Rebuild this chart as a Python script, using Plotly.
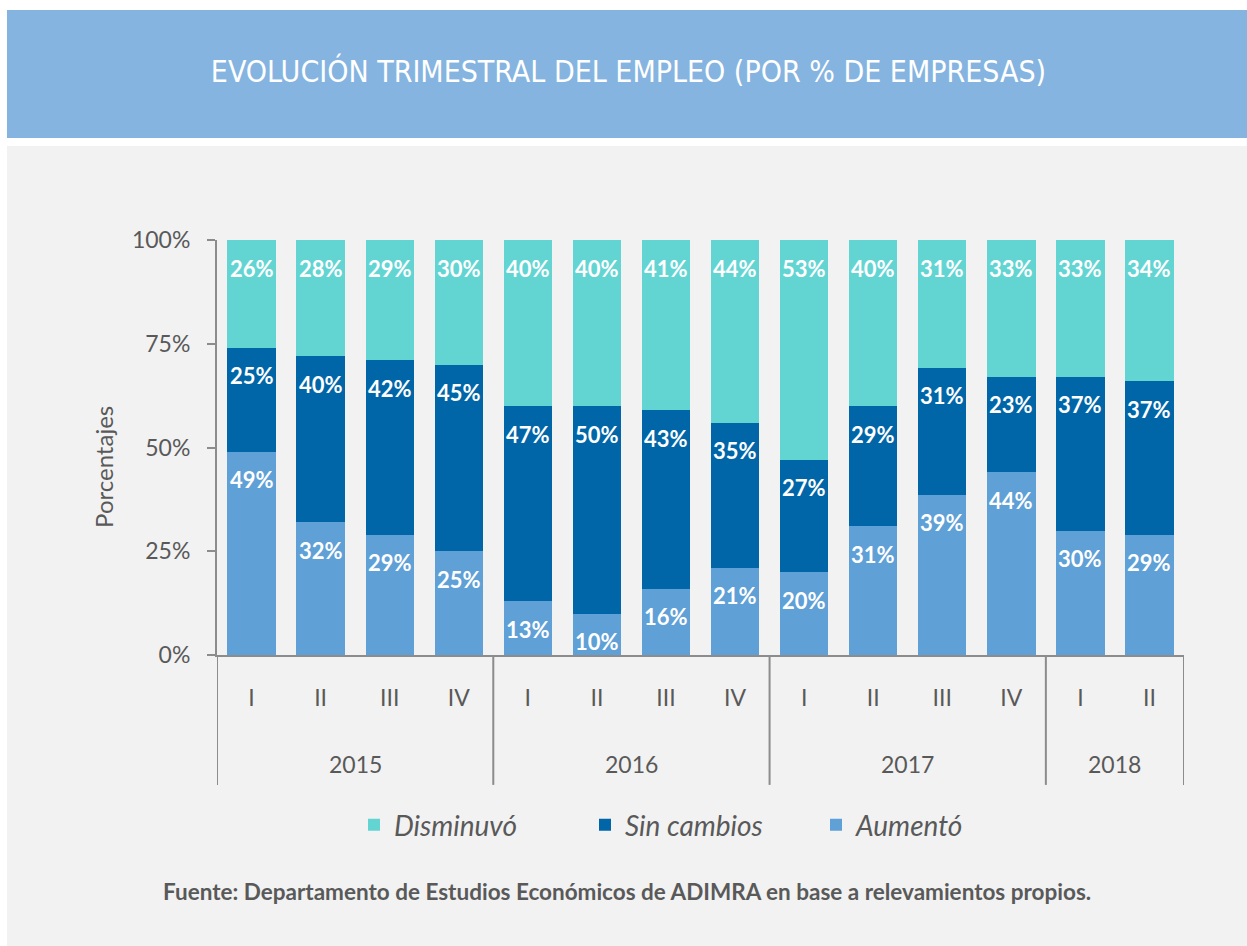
import plotly.graph_objects as go

# ---- data ----
years = ["2015", "2015", "2015", "2015", "2016", "2016", "2016", "2016",
         "2017", "2017", "2017", "2017", "2018", "2018"]
quarters = ["I", "II", "III", "IV", "I", "II", "III", "IV",
            "I", "II", "III", "IV", "I", "II"]
aumento = [49, 32, 29, 25, 13, 10, 16, 21, 20, 31, 38.6, 44, 30, 29]
sin_cambios = [25, 40, 42, 45, 47, 50, 43, 35, 27, 29, 30.6, 23, 37, 37]
disminuyo = [26, 28, 29, 30, 40, 40, 41, 44, 53, 40, 30.8, 33, 33, 34]
y_ticks = [0, 25, 50, 75, 100]

series = [
    ("Aumentó", aumento, "#5FA0D6"),
    ("Sin cambios", sin_cambios, "#0066A8"),
    ("Disminuvó", disminuyo, "#62D5D3"),
]

cats = [f"{y} {q}" for y, q in zip(years, quarters)]

GRAY = "#595959"
AXIS = "#8C8C8C"
FONT = "Lato"

fig = go.Figure()
for name, vals, col in series:
    fig.add_trace(go.Bar(
        x=cats, y=vals, name=name, marker=dict(color=col, line=dict(width=0)),
        hoverinfo="y+name",
    ))

# value labels near the top of each segment
annotations = []
cum = [0.0] * len(cats)
for name, vals, col in series:
    for i, v in enumerate(vals):
        cum[i] += v
        annotations.append(dict(
            x=cats[i], y=cum[i], xref="x", yref="y", text=f"{v:.0f}%",
            showarrow=False, yanchor="middle", yshift=-28,
            font=dict(family=FONT, size=22, color="white", weight="bold"),
        ))

# year labels and dividers
groups = []
for i, y in enumerate(years):
    if not groups or groups[-1][0] != y:
        groups.append([y, i, i])
    else:
        groups[-1][2] = i
shapes = []
for y, a, b in groups:
    annotations.append(dict(
        x=(a + b) / 2, y=-0.263, xref="x", yref="paper", text=y,
        showarrow=False, yanchor="middle",
        font=dict(family=FONT, size=23, color=GRAY),
    ))
bounds = sorted(set([g[1] - 0.5 for g in groups] + [groups[-1][2] + 0.5]))
for bx in bounds:
    shapes.append(dict(type="line", xref="x", yref="paper", x0=bx, x1=bx,
                       y0=0, y1=-0.313, line=dict(color=AXIS, width=2)))

# background panels
shapes.append(dict(type="rect", xref="paper", yref="paper", x0=-0.2172, x1=1.07,
                   y0=-0.71, y1=1.2265, fillcolor="#F2F2F2", line=dict(width=0),
                   layer="below"))
shapes.append(dict(type="rect", xref="paper", yref="paper", x0=-0.2172, x1=1.07,
                   y0=1.2458, y1=1.554, fillcolor="#85B4E0", line=dict(width=0),
                   layer="below"))

annotations.append(dict(
    x=-0.118, y=0.453, xref="paper", yref="paper", text="Porcentajes",
    textangle=-90, showarrow=False, xanchor="center", yanchor="middle",
    font=dict(family=FONT, size=24, color=GRAY),
))
annotations.append(dict(
    x=0.424, y=-0.569, xref="paper", yref="paper", xanchor="center", yanchor="middle",
    text="Fuente: Departamento de Estudios Económicos de ADIMRA en base a relevamientos propios.",
    showarrow=False, font=dict(family=FONT, size=22.5, color=GRAY, weight="bold"),
))

fig.update_layout(
    width=1247, height=946,
    margin=dict(l=217, r=63, t=240, b=291),
    paper_bgcolor="white", plot_bgcolor="rgba(0,0,0,0)",
    barmode="stack", bargap=0.30,
    title=dict(text="EVOLUCIÓN TRIMESTRAL DEL EMPLEO (POR % DE EMPRESAS)",
               x=0.504, y=0.924, xref="container", yref="container",
               xanchor="center", yanchor="middle",
               font=dict(family="DejaVu Sans Condensed, Roboto", size=30, color="white")),
    xaxis=dict(
        type="category", tickmode="array", tickvals=cats, ticktext=quarters,
        showline=True, linecolor=AXIS, linewidth=2, ticks="", showgrid=False,
        tickfont=dict(family=FONT, size=23, color=GRAY),
        ticklabelstandoff=21, range=[-0.5, len(cats) - 0.5],
    ),
    yaxis=dict(
        range=[0, 100], tickmode="array", tickvals=y_ticks,
        ticktext=[f"{v}%" for v in y_ticks],
        showline=True, linecolor=AXIS, linewidth=2, ticks="outside",
        ticklen=8, tickwidth=2, tickcolor=AXIS, showgrid=False, zeroline=False,
        ticklabelstandoff=12,
        tickfont=dict(family=FONT, size=23, color=GRAY),
    ),
    legend=dict(orientation="h", x=0.5, xanchor="center", y=-0.41,
                yanchor="middle", traceorder="reversed", bgcolor="rgba(0,0,0,0)",
                entrywidth=186, entrywidthmode="pixels",
                font=dict(family=FONT, size=28, color=GRAY, style="italic")),
    showlegend=True,
    annotations=annotations, shapes=shapes,
)

fig.write_html("out.html", config={"displayModeBar": False},
               post_script="document.body.style.margin='0';")
